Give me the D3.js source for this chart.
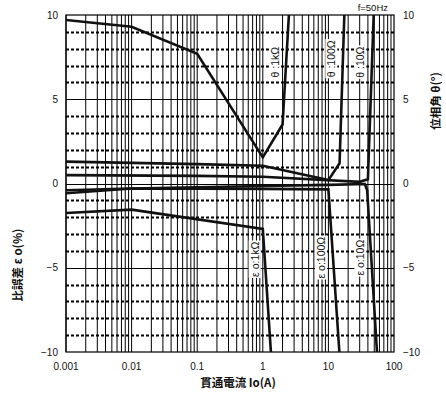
<!DOCTYPE html>
<html>
<head>
<meta charset="utf-8">
<script src="https://cdn.jsdelivr.net/npm/d3@7"></script>
<style>
  body { margin: 0; background: #fff; }
  text { font-family: "Liberation Sans", Arial, sans-serif; fill: #111; }
  .jp { font-family: "Noto Sans CJK JP", sans-serif; }
</style>
</head>
<body>
<svg id="chart" width="446" height="394"></svg>
<script>
  // x: through current Io (A), y: ratio error eps (%) / phase angle theta (deg)
  const xTicks = [0.001, 0.01, 0.1, 1, 10, 100];
  const xTickLabels = ["0.001", "0.01", "0.1", "1", "10", "100"];
  const yTicks = [-10, -5, 0, 5, 10];
  const yTickLabels = ["\u221210", "\u22125", "0", "5", "10"];

  const theta1k = [[0.001, 9.7], [0.01, 9.3], [0.1, 7.7], [1, 1.55], [2, 3.5], [2.5, 10]];
  const theta100 = [[0.001, 1.3], [0.1, 1.15], [1, 1.05], [10, 0.2], [14.8, 1.2], [17.5, 10]];
  const theta10 = [[0.001, 0.5], [0.1, 0.45], [1, 0.4], [30, 0.1], [40, 0.25], [49, 10]];
  const eps1k = [[0.001, -1.75], [0.01, -1.55], [1, -2.7], [1.33, -10]];
  const eps100 = [[0.001, -0.4], [0.01, -0.3], [1, -0.32], [10, -0.35], [14.7, -10]];
  const eps10 = [[0.001, -0.58], [0.01, -0.3], [1, -0.15], [10, -0.08], [36, -0.03], [39, -0.4], [55, -10]];

  const series = [theta1k, theta100, theta10, eps1k, eps100, eps10];

  const curveLabels = [
    { text: "\u03b8 :1k\u03a9", x: 1.55, y: 7.2 },
    { text: "\u03b8 :100\u03a9", x: 11.2, y: 7.4 },
    { text: "\u03b8 :10\u03a9", x: 31, y: 7.2 },
    { text: "\u03b5 o:1k\u03a9", x: 0.76, y: -4.5 },
    { text: "\u03b5 o:100\u03a9", x: 7.8, y: -4.4 },
    { text: "\u03b5 o:10\u03a9", x: 31, y: -4.4 },
  ];

  const svg = d3.select("#chart");
  const margin = { left: 66, right: 52, top: 15, bottom: 42 };
  const width = 446 - margin.left - margin.right;
  const height = 394 - margin.top - margin.bottom;

  const x = d3.scaleLog().domain([0.001, 100]).range([0, width]);
  const y = d3.scaleLinear().domain([-10, 10]).range([height, 0]);

  const g = svg.append("g").attr("transform", `translate(${margin.left},${margin.top})`);

  // minor vertical grid (1..9 per decade)
  const vLines = [];
  for (let e = -3; e < 2; e++) {
    for (let k = 1; k <= 9; k++) vLines.push(k * Math.pow(10, e));
  }
  g.append("g")
    .selectAll("line")
    .data(vLines)
    .join("line")
    .attr("x1", (d) => x(d))
    .attr("x2", (d) => x(d))
    .attr("y1", 0)
    .attr("y2", height)
    .attr("stroke", "#000")
    .attr("stroke-width", 1);

  // horizontal grid: solid at multiples of 5, dotted elsewhere
  const hLines = d3.range(-9, 10);
  g.append("g")
    .selectAll("line")
    .data(hLines)
    .join("line")
    .attr("x1", 0)
    .attr("x2", width)
    .attr("y1", (d) => Math.round(y(d)) + 0.5)
    .attr("y2", (d) => Math.round(y(d)) + 0.5)
    .attr("stroke", "#000")
    .attr("stroke-width", (d) => (d % 5 === 0 ? 1 : 1.8))
    .attr("stroke-dasharray", (d) => (d % 5 === 0 ? null : "3,2"));

  // frame
  g.append("rect")
    .attr("x", 0)
    .attr("y", 0)
    .attr("width", width)
    .attr("height", height)
    .attr("fill", "none")
    .attr("stroke", "#000")
    .attr("stroke-width", 1.2);

  // curves
  const line = d3
    .line()
    .x((d) => x(d[0]))
    .y((d) => y(d[1]));

  const clip = svg.append("clipPath").attr("id", "plot-clip");
  clip.append("rect").attr("width", width).attr("height", height);

  g.append("g")
    .attr("clip-path", "url(#plot-clip)")
    .selectAll("path")
    .data(series)
    .join("path")
    .attr("d", line)
    .attr("fill", "none")
    .attr("stroke", "#111")
    .attr("stroke-width", 2.6)
    .attr("stroke-linejoin", "miter");

  // curve labels, rotated, with white box
  curveLabels.forEach((d) => {
    const lg = g.append("g").attr("transform", `translate(${x(d.x)},${y(d.y)}) rotate(-90)`);
    const t = lg
      .append("text")
      .attr("text-anchor", "middle")
      .attr("dy", "0.35em")
      .style("font-size", "10.5px")
      .text(d.text);
    const b = t.node().getBBox();
    lg.insert("rect", "text")
      .attr("x", b.x - 1)
      .attr("y", b.y)
      .attr("width", b.width + 2)
      .attr("height", b.height)
      .attr("fill", "#fff");
  });

  // tick labels
  g.append("g")
    .selectAll("text")
    .data(xTicks)
    .join("text")
    .attr("x", (d) => x(d))
    .attr("y", height + 18)
    .attr("text-anchor", "middle")
    .style("font-size", "10px")
    .text((d, i) => xTickLabels[i]);

  g.append("g")
    .selectAll("text")
    .data(yTicks)
    .join("text")
    .attr("x", -8)
    .attr("y", (d) => y(d))
    .attr("dy", "0.35em")
    .attr("text-anchor", "end")
    .style("font-size", "10px")
    .text((d, i) => yTickLabels[i]);

  g.append("g")
    .selectAll("text")
    .data(yTicks)
    .join("text")
    .attr("x", width + 9)
    .attr("y", (d) => y(d))
    .attr("dy", "0.35em")
    .attr("text-anchor", "start")
    .style("font-size", "10px")
    .text((d, i) => yTickLabels[i]);

  // titles
  svg.append("text")
    .attr("x", 388)
    .attr("y", 11)
    .attr("text-anchor", "end")
    .style("font-size", "9.5px")
    .text("f=50Hz");

  svg.append("text")
    .attr("class", "jp")
    .attr("x", 238)
    .attr("y", 387)
    .attr("text-anchor", "middle")
    .style("font-size", "11.5px")
    .style("font-weight", "bold")
    .text("貫通電流 Io(A)");

  svg.append("text")
    .attr("class", "jp")
    .attr("transform", "translate(22,265) rotate(-90)")
    .attr("text-anchor", "middle")
    .style("font-size", "11.5px")
    .style("font-weight", "bold")
    .text("比誤差 ε o(%)");

  svg.append("text")
    .attr("class", "jp")
    .attr("transform", "translate(440,101) rotate(-90)")
    .attr("text-anchor", "middle")
    .style("font-size", "11.5px")
    .style("font-weight", "bold")
    .text("位相角 θ(°)");
</script>
</body>
</html>
